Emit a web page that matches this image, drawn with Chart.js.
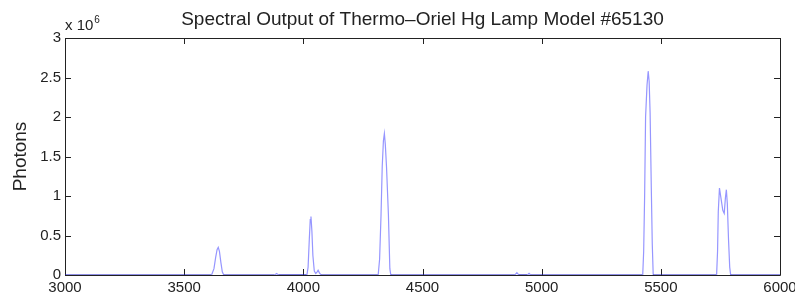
<!DOCTYPE html>
<html>
<head>
<meta charset="utf-8">
<script src="https://cdn.jsdelivr.net/npm/chart.js@4"></script>
<style>
html, body { margin: 0; padding: 0; background: #fff; }
</style>
</head>
<body>
<canvas id="lampChart" width="795" height="297"></canvas>
<script>

// ======================
// DATA
// ======================

const chartTitle = "Spectral Output of Thermo\u2013Oriel Hg Lamp Model #65130";

// wavelength (x axis)
const wavelength = [
    3000,
    3615, 3625, 3632, 3638, 3643, 3648, 3654, 3660, 3666,
    3880, 3888, 3896,
    4015, 4020, 4025, 4029, 4032, 4036, 4040, 4046, 4052, 4058, 4062, 4067, 4074,
    4314, 4320, 4326, 4331, 4336, 4340, 4344, 4349, 4357, 4363, 4367,
    4888, 4896, 4904, 4940, 4947, 4954,
    5424, 5428, 5432, 5436, 5442, 5447, 5451, 5455, 5460, 5464, 5468,
    5734, 5738, 5741, 5746, 5752, 5760, 5766, 5771, 5775, 5779, 5784, 5789, 5793,
    6000
];

// photons, in units of 10^6
const photons = [
    0,
    0, 0.08, 0.22, 0.32, 0.35, 0.30, 0.16, 0.04, 0,
    0, 0.02, 0,
    0, 0.10, 0.45, 0.70, 0.74, 0.55, 0.25, 0.05, 0.02, 0.04, 0.06, 0.03, 0,
    0, 0.20, 0.76, 1.37, 1.70, 1.79, 1.65, 1.37, 0.76, 0.08, 0,
    0, 0.03, 0, 0, 0.02, 0,
    0, 0.30, 1.00, 2.00, 2.40, 2.58, 2.45, 2.05, 1.10, 0.40, 0,
    0, 0.30, 0.80, 1.10, 0.98, 0.82, 0.78, 0.98, 1.08, 0.90, 0.45, 0.10, 0,
    0
];

const xTicks = [3000, 3500, 4000, 4500, 5000, 5500, 6000];
const yTicks = [0, 0.5, 1, 1.5, 2, 2.5, 3];


// ======================
// FRAME, INNER TICKS, TITLE
// ======================

const matlabFrame = {
    id: "matlabFrame",
    beforeDatasetsDraw(chart) {
        const { ctx, chartArea: a, scales } = chart;
        const len = 6;
        ctx.save();
        ctx.strokeStyle = "#222";
        ctx.lineWidth = 1;
        ctx.beginPath();
        ctx.rect(Math.round(a.left) + 0.5, Math.round(a.top) + 0.5,
                 Math.round(a.right - a.left), Math.round(a.bottom - a.top));
        xTicks.forEach(v => {
            const px = Math.round(scales.x.getPixelForValue(v)) + 0.5;
            ctx.moveTo(px, a.bottom); ctx.lineTo(px, a.bottom - len);
            ctx.moveTo(px, a.top); ctx.lineTo(px, a.top + len);
        });
        yTicks.forEach(v => {
            const py = Math.round(scales.y.getPixelForValue(v)) + 0.5;
            ctx.moveTo(a.left, py); ctx.lineTo(a.left + len, py);
            ctx.moveTo(a.right, py); ctx.lineTo(a.right - len, py);
        });
        ctx.stroke();
        ctx.restore();
    },
    afterDraw(chart) {
        const { ctx, chartArea: a } = chart;
        ctx.save();
        ctx.fillStyle = "#222";
        ctx.textBaseline = "alphabetic";
        ctx.textAlign = "center";
        ctx.font = "19px 'Liberation Sans', Arial, sans-serif";
        ctx.fillText(chartTitle, (a.left + a.right) / 2, 25);
        ctx.textAlign = "left";
        ctx.font = "15px 'Liberation Sans', Arial, sans-serif";
        ctx.fillText("x 10", a.left, 30);
        const w = ctx.measureText("x 10").width;
        ctx.font = "10px 'Liberation Sans', Arial, sans-serif";
        ctx.fillText("6", a.left + w + 1, 23);
        ctx.restore();
    }
};


// ======================
// LINE CHART
// ======================

new Chart(
    document.getElementById("lampChart"),
    {
        type: "line",

        data: {
            datasets: [{
                data: wavelength.map((w, i) => ({ x: w, y: photons[i] })),
                borderWidth: 1.2,
                borderColor: "rgb(150,150,255)",
                segment: {
                    borderColor: c =>
                        (c.p0.parsed.y === 0 && c.p1.parsed.y === 0)
                            ? "rgb(30,30,200)" : "rgb(150,150,255)"
                },
                pointRadius: 0,
                tension: 0,
                fill: false
            }]
        },

        plugins: [matlabFrame],

        options: {
            responsive: false,
            animation: false,
            layout: { padding: { top: 38, right: 15, left: 0, bottom: 0 } },
            plugins: {
                legend: { display: false },
                tooltip: { enabled: false }
            },
            scales: {
                x: {
                    type: "linear",
                    min: 3000,
                    max: 6000,
                    grid: { display: false, drawTicks: false },
                    border: { display: false },
                    afterBuildTicks: s => { s.ticks = xTicks.map(v => ({ value: v })); },
                    afterFit: s => { s.height = 22; s.paddingLeft = 0; s.paddingRight = 0; },
                    ticks: {
                        autoSkip: false,
                        maxRotation: 0,
                        padding: 4,
                        color: "#222",
                        font: { family: "'Liberation Sans', Arial, sans-serif", size: 15 },
                        callback: v => String(v)
                    }
                },
                y: {
                    min: 0,
                    max: 3,
                    grid: { display: false, drawTicks: false },
                    border: { display: false },
                    afterBuildTicks: s => { s.ticks = yTicks.map(v => ({ value: v })); },
                    afterFit: s => { s.width = 65; s.paddingTop = 0; s.paddingBottom = 0; },
                    ticks: {
                        padding: 4,
                        color: "#222",
                        font: { family: "'Liberation Sans', Arial, sans-serif", size: 15 },
                        callback: v => String(v)
                    },
                    title: {
                        display: true,
                        text: "Photons",
                        color: "#222",
                        padding: { top: 9, bottom: 0 },
                        font: { family: "'Liberation Sans', Arial, sans-serif", size: 19 }
                    }
                }
            }
        }
    }
);

</script>
</body>
</html>
